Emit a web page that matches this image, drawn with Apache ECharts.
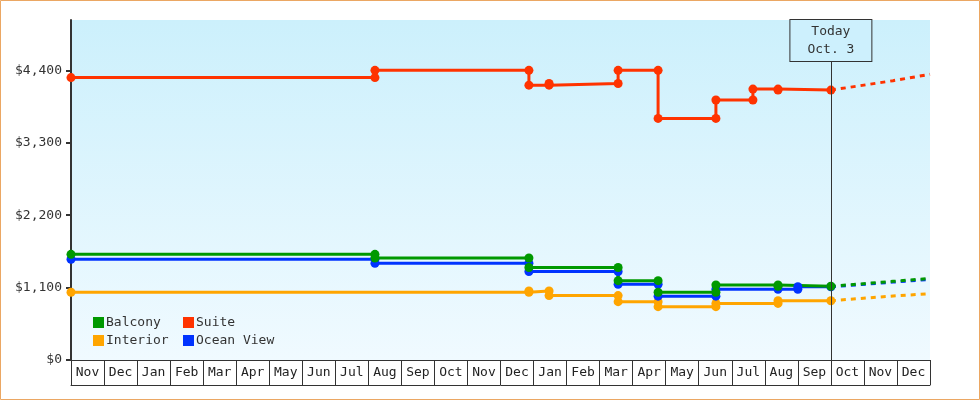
<!DOCTYPE html>
<html><head><meta charset="utf-8">
<script src="https://cdn.jsdelivr.net/npm/echarts@6/dist/echarts.min.js"></script>
<style>html,body{margin:0;padding:0;background:#fff}#c{width:980px;height:400px}</style>
</head><body><div id="c"></div>
<script>
// month positions: 0 = start of first Nov, 26 = end of last Dec
var months = ['Nov','Dec','Jan','Feb','Mar','Apr','May','Jun','Jul','Aug','Sep','Oct','Nov','Dec','Jan','Feb','Mar','Apr','May','Jun','Jul','Aug','Sep','Oct','Nov','Dec'];
var yTicks = [0, 1100, 2200, 3300, 4400];
var todayPos = 23.0;
var todayLabel = 'Today\nOct. 3';

var suite = [[0,4290],[9.20,4290],[9.20,4400],[13.86,4400],[13.86,4175],[14.47,4175],[14.47,4200],[16.56,4200],[16.56,4400],[17.77,4400],[17.77,3670],[19.52,3670],[19.52,3950],[20.64,3950],[20.64,4115],[21.40,4115],[21.40,4100],[23.0,4100]];
var balcony = [[0,1605],[9.20,1605],[9.20,1550],[13.86,1550],[13.86,1405],[16.56,1405],[16.56,1205],[17.77,1205],[17.77,1030],[19.52,1030],[19.52,1140],[21.40,1140],[21.40,1120],[23.0,1120]];
var oceanView = [[0,1530],[9.20,1530],[9.20,1470],[13.86,1470],[13.86,1345],[16.56,1345],[16.56,1150],[17.77,1150],[17.77,970],[19.52,970],[19.52,1075],[21.40,1075],[22.0,1075],[22.0,1112],[23.0,1112]];
var interior = [[0,1030],[13.86,1030],[13.86,1050],[14.47,1050],[14.47,978],[16.56,978],[16.56,886],[17.77,886],[17.77,810],[19.52,810],[19.52,860],[21.40,860],[21.40,900],[23.0,900]];

var suiteFc = [[23.0,4100],[24.88,4243],[26,4340]];
var balconyFc = [[23.0,1120],[24.88,1195],[26,1238]];
var oceanViewFc = [[23.0,1112],[24.88,1183],[26,1225]];
var interiorFc = [[23.0,900],[24.88,972],[26,1008]];

var C = {Balcony:'#009900', Suite:'#ff3300', Interior:'#ffa500', 'Ocean View':'#0033ff'};
var FONT = 'DejaVu Sans Mono';

function solid(name, data){
  return {name:name, type:'line', data:data, xAxisIndex:0, color:C[name],
    symbol:'circle', symbolSize:9, showSymbol:true,
    lineStyle:{width:3, color:C[name]}, itemStyle:{color:C[name]}, animation:false};
}
function dashed(name, data){
  return {name:name, type:'line', data:data, xAxisIndex:0, color:C[name],
    symbol:'none', lineStyle:{width:3, type:[5,5], color:C[name]}, animation:false};
}

var chart = echarts.init(document.getElementById('c'));
var suiteSeries = solid('Suite', suite);
suiteSeries.markLine = {
  silent:true, symbol:'none', animation:false,
  lineStyle:{color:'#333', width:1, type:'solid'},
  label:{show:true, position:'end', distance:0, formatter:todayLabel,
    fontFamily:FONT, fontSize:13, color:'#333', lineHeight:18, align:'center',
    backgroundColor:'#cdf0fd', borderColor:'#333', borderWidth:1, padding:[3,17,2,17]},
  data:[[{coord:[todayPos,0]},{coord:[todayPos,4542]}]]
};

chart.setOption({
  animation:false,
  textStyle:{fontFamily:FONT},
  graphic:[{type:'rect', shape:{x:0.5,y:0.5,width:979,height:399}, style:{fill:'none', stroke:'#eba763', lineWidth:1}, z:100}],
  grid:{left:71, right:50, top:20, bottom:40, show:true, borderWidth:0,
    backgroundColor:new echarts.graphic.LinearGradient(0,0,0,1,[{offset:0,color:'#ccf0fc'},{offset:1,color:'#f0faff'}])},
  legend:[
    {data:['Balcony','Interior'], orient:'vertical', left:88, top:311, itemWidth:11, itemHeight:11, itemGap:5, icon:'rect',
      textStyle:{fontFamily:FONT, fontSize:13, color:'#333', padding:[0,0,0,-3]}},
    {data:['Suite','Ocean View'], orient:'vertical', left:178, top:311, itemWidth:11, itemHeight:11, itemGap:5, icon:'rect',
      textStyle:{fontFamily:FONT, fontSize:13, color:'#333', padding:[0,0,0,-3]}}
  ],
  xAxis:[
    {type:'value', min:0, max:26, show:false},
    {type:'category', data:months, position:'bottom', boundaryGap:true,
      axisLine:{show:true, lineStyle:{color:'#333', width:1}},
      axisTick:{show:true, interval:0, length:25, lineStyle:{color:'#333', width:1}},
      axisLabel:{interval:0, margin:6, fontFamily:FONT, fontSize:13, color:'#222'},
      splitLine:{show:false}},
    {type:'category', data:months, position:'bottom', offset:25,
      axisLine:{show:true, lineStyle:{color:'#333', width:1}},
      axisTick:{show:false}, axisLabel:{show:false}, splitLine:{show:false}}
  ],
  yAxis:{type:'value', min:0, max:5165,
    axisLine:{show:true, lineStyle:{color:'#333', width:2}},
    axisTick:{show:true, length:5, customValues:yTicks, lineStyle:{color:'#333', width:2}},
    axisLabel:{customValues:yTicks, margin:9, fontFamily:FONT, fontSize:13, color:'#333',
      formatter:function(v){return '$'+v.toLocaleString('en-US');}},
    splitLine:{show:false}},
  series:[
    solid('Interior', interior), dashed('Interior', interiorFc),
    solid('Ocean View', oceanView), dashed('Ocean View', oceanViewFc),
    solid('Balcony', balcony), dashed('Balcony', balconyFc),
    suiteSeries, dashed('Suite', suiteFc)
  ]
});
</script></body></html>
